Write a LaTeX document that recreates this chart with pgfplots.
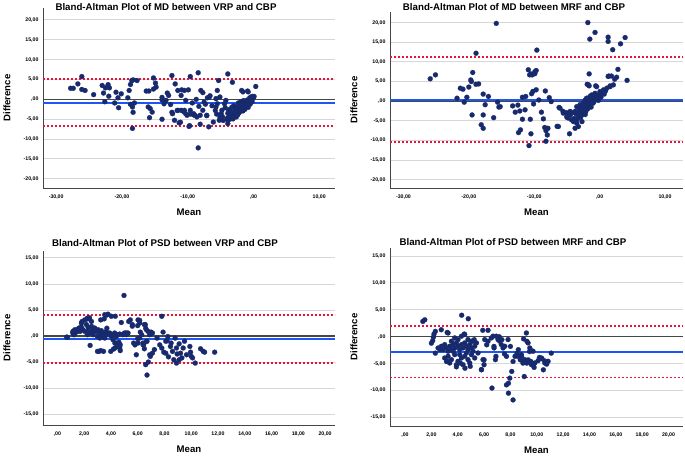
\documentclass[border=0pt]{standalone}
\usepackage{pgfplots}
\pgfplotsset{compat=1.18}
\usepackage{fontspec}
\setmainfont{Liberation Sans}

\definecolor{dotnavy}{RGB}{24,42,110}
\definecolor{meanblue}{RGB}{30,85,245}
\definecolor{limred}{RGB}{232,18,58}
\definecolor{gridgray}{RGB}{215,215,215}
\definecolor{axisgray}{RGB}{70,70,70}

\pgfplotsset{
  ba/.style={
    scale only axis, anchor=south west,
    axis x line*=bottom, axis y line*=left,
    axis line style={draw=axisgray, line width=0.9pt, -},
    major tick length=0pt,
    ymajorgrids, grid style={gridgray, line width=1pt},
    tick label style={font=\fontsize{5.2}{6}\selectfont\bfseries},
    xticklabel style={yshift=-3pt},
    yticklabel style={xshift=-1pt},
    every axis x label/.style={at={(rel axis cs:0.5,0)}, anchor=center, yshift=-24pt,
      font=\fontsize{9.6}{11}\selectfont\bfseries},
    every axis y label/.style={at={(rel axis cs:0,0.5)}, anchor=center, xshift=-36pt, rotate=90,
      font=\fontsize{9.6}{11}\selectfont\bfseries},
    xlabel=Mean, ylabel=Difference,
  },
  zeroline/.style={axisgray, line width=1.2pt, forget plot},
  meanline/.style={meanblue, line width=2pt, forget plot},
  limline/.style={limred, line width=1.7pt, dash pattern=on 2pt off 2pt, forget plot},
  pts/.style={only marks, mark=*, mark size=2.5pt, mark options={fill=dotnavy, draw=dotnavy, line width=0.2pt}},
  mdx/.style={xtick={-30,-20,-10,0,10},
    xticklabels={{-30,00},{-20,00},{-10,00},{,00},{10,00}},
    ytick={-20,-15,-10,-5,0,5,10,15,20},
    yticklabels={{-20,00},{-15,00},{-10,00},{-5,00},{,00},{5,00},{10,00},{15,00},{20,00}}},
  psdx/.style={xtick={0,2,4,6,8,10,12,14,16,18,20},
    xticklabels={{,00},{2,00},{4,00},{6,00},{8,00},{10,00},{12,00},{14,00},{16,00},{18,00},{20,00}},
    ytick={-15,-10,-5,0,5,10,15},
    yticklabels={{-15,00},{-10,00},{-5,00},{,00},{5,00},{10,00},{15,00}}},
}

\begin{document}
\begin{tikzpicture}[x=1pt,y=1pt]
\useasboundingbox (0,0) rectangle (685,456);

% ---------- MD: VRP vs CBP ----------
\begin{axis}[ba, mdx, at={(43pt,268pt)}, width=292pt, height=180pt,
  xmin=-32, xmax=12.4, ymin=-22.3, ymax=23]
\addplot[zeroline] coordinates {(-32,0) (12.4,0)};
\addplot[meanline] coordinates {(-32,-0.8) (12.4,-0.8)};
\addplot[limline] coordinates {(-32,5.1) (12.4,5.1)};
\addplot[limline] coordinates {(-32,-6.75) (12.4,-6.75)};
\addplot[pts] table {
x y
-27.8 2.8
-27.4 2.8
-26.7 3.9
-26.1 5.75
-26.1 2.5
-25.6 2.25
-24.3 1.2
-23.0 3.5
-22.8 1.6
-22.5 2.9
-22.1 3.7
-21.9 2.9
-22.6 -0.6
-22.0 0.8
-21.1 -0.9
-20.9 1.8
-20.5 -2.1
-20.1 1.4
-20.6 0.4
-19.1 0.4
-18.9 2.25
-18.7 3.75
-18.5 4.75
-18.3 4.9
-18.7 -1.25
-18.4 -1.9
-18.1 -0.9
-18.3 -3.25
-18.4 -7.3
-17.7 4.75
-16.3 2.1
-15.9 2.1
-16.0 -1.9
-15.7 -2.3
-15.8 -4.6
-15.4 -3.2
-15.2 5.4
-14.9 4.1
-14.8 3.1
-15.2 2.6
-13.9 -0.1
-13.9 -5.0
-13.9 0.5
-13.4 -0.3
-13.6 -1.1
-13.3 -0.25
-13.1 1.6
-12.9 1.0
-12.4 6.0
-12.6 -1.3
-12.3 -3.6
-12.4 -3.25
-11.9 3.9
-12.0 -5.25
-11.5 2.25
-11.5 -2.75
-11.6 -2.8
-11.0 -2.75
-11.3 -5.9
-11.1 -5.75
-11.0 1.0
-10.9 2.4
-10.5 2.25
-10.3 -0.25
-10.5 -2.75
-10.6 -3.1
-10.3 -3.6
-10.1 -4.0
-9.9 2.4
-9.8 -6.8
-9.7 -6.6
-9.6 5.75
-9.6 -2.75
-9.6 -3.7
-9.3 -0.9
-9.1 -3.6
-9.1 -3.9
-8.9 -4.0
-8.6 -4.4
-8.7 0.0
-8.4 6.7
-8.4 -12.2
-8.3 -1.75
-8.1 -4.0
-8.1 -6.25
-8.0 2.25
-7.7 1.7
-7.7 -2.75
-7.5 -0.7
-7.3 -1.2
-7.1 -4.1
-7.0 0.4
-7.1 -4.0
-6.8 -6.9
-6.7 0.6
-6.6 0.9
-6.3 -1.6
-6.1 -5.7
-5.8 -2.8
-5.7 -1.9
-5.6 -3.7
-5.5 -1.1
-5.5 2.25
-5.3 4.75
-5.7 0.2
-5.2 -5.25
-5.1 0.6
-5.1 -4.5
-4.9 -3.6
-4.8 -2.75
-4.7 -4.4
-4.6 -5.3
-4.4 -1.1
-4.3 -2.1
-4.2 -0.25
-3.9 6.4
-3.9 -5.25
-3.8 -4.6
-3.9 -6.1
-3.2 4.3
-4.0 -4.8
-3.9 -3.5
-3.8 -2.6
-3.7 -4.2
-3.6 -5.0
-3.5 -3.0
-3.4 -4.5
-3.3 -2.0
-3.2 -3.8
-3.1 -4.9
-3.0 -3.3
-3.0 -1.6
-2.9 -4.2
-2.8 -2.7
-2.7 -3.6
-2.6 -4.4
-2.6 -1.9
-2.5 -3.1
-2.4 -2.3
-2.4 -3.9
-2.3 -0.9
-2.2 -3.4
-2.1 -2.6
-2.0 -1.8
-2.0 -3.0
-1.9 -0.6
-1.8 -2.4
-1.8 2.25
-1.7 -1.4
-1.6 -2.9
-1.6 1.9
-1.5 -2.0
-1.5 -0.3
-1.4 -1.2
-1.3 -2.5
-1.2 -0.8
-1.1 -1.7
-1.0 -0.2
-0.9 -1.1
-0.9 2.1
-0.8 -2.0
-0.8 1.9
-0.7 -0.5
-0.6 0.3
-0.5 -1.2
-0.4 -0.1
-0.4 0.6
-0.3 0.5
-0.2 -0.6
-0.15 0.75
-0.1 0.2
0.0 0.4
0.1 0.75
0.35 3.25
};
\end{axis}

% ---------- MD: MRF vs CBP ----------
\begin{axis}[ba, mdx, at={(390pt,268pt)}, width=293pt, height=176pt,
  xmin=-32.05, xmax=12.75, ymin=-22.1, ymax=22.7]
\addplot[zeroline] coordinates {(-32.05,0) (12.75,0)};
\addplot[meanline] coordinates {(-32.05,0.4) (12.75,0.4)};
\addplot[limline] coordinates {(-32.05,11.2) (12.75,11.2)};
\addplot[limline] coordinates {(-32.05,-10.4) (12.75,-10.4)};
\addplot[pts] table {
x y
-25.9 5.7
-25.1 6.7
-21.8 0.75
-21.3 3.3
-20.9 3.05
-20.7 -0.25
-20.3 1.0
-20.0 3.6
-19.6 5.0
-19.7 5.4
-19.4 7.3
-19.5 -3.5
-18.9 4.3
-18.5 4.4
-18.9 12.2
-18.1 -6.0
-17.8 -6.9
-17.8 -3.5
-17.8 1.8
-17.5 -0.9
-17.0 1.2
-16.2 -4.2
-15.8 19.8
-15.6 -0.25
-15.4 -1.5
-15.2 -1.4
-13.3 -1.2
-12.9 -2.8
-12.5 -1.0
-12.4 -8.0
-12.1 -7.3
-12.2 -2.5
-11.8 1.0
-11.3 1.2
-11.8 -4.6
-11.4 -2.2
-10.9 8.0
-10.8 -11.3
-10.7 6.7
-10.5 6.95
-10.3 6.7
-10.6 -4.6
-10.5 -8.3
-10.4 1.9
-10.2 2.5
-9.9 7.5
-9.7 7.8
-9.9 7.0
-10.1 -0.7
-9.7 2.9
-9.6 13.0
-9.3 0.3
-8.9 -2.8
-8.6 -4.5
-8.4 -6.7
-8.2 -7.5
-7.9 -6.9
-8.0 -8.6
-8.3 2.6
-8.2 -10.2
-7.7 0.9
-7.4 -0.1
-6.5 -6.4
-6.3 -6.45
-6.2 -1.6
-6.05 -1.8
-5.6 -2.6
-5.55 -3.05
-5.1 -2.9
-5.0 -3.9
-4.8 -4.3
-4.7 -3.1
-5.0 -4.1
-4.6 -8.3
-4.5 -3.5
-4.5 -2.6
-4.3 -4.75
-4.2 -3.0
-4.0 -5.2
-3.9 -4.4
-3.75 -2.6
-3.75 -6.9
-3.6 -3.2
-3.5 -5.6
-3.5 -1.4
-3.4 -4.6
-3.3 -2.8
-3.25 -3.9
-3.25 -6.45
-3.1 -2.2
-3.0 -3.5
-3.0 -0.9
-2.9 -4.1
-2.8 -1.8
-2.7 -2.6
-2.7 -5.2
-2.6 -3.4
-2.5 -0.5
-2.4 -2.0
-2.3 -1.2
-2.2 0.3
-2.2 -3.4
-2.1 -2.6
-2.0 0.75
-2.0 -1.4
-1.9 -0.3
-1.9 4.3
-1.8 -1.9
-1.8 20.0
-1.7 -0.1
-1.7 4.15
-1.6 0.6
-1.6 3.9
-1.6 6.95
-1.5 1.2
-1.5 -0.9
-1.5 15.8
-1.4 -0.6
-1.3 -1.5
-1.2 1.6
-1.1 0.2
-1.0 1.2
-1.0 -0.5
-0.9 -0.2
-0.8 0.9
-0.7 2.0
-0.7 17.5
-0.6 0.4
-0.6 3.9
-0.45 1.6
-0.45 3.7
-0.3 1.1
-0.2 0.2
0.0 1.6
0.05 2.45
0.2 1.0
0.4 2.1
0.6 2.9
0.7 1.8
0.9 2.6
1.1 3.3
1.3 16.3
1.3 15.2
1.3 6.3
1.4 6.4
1.6 3.7
1.8 6.4
1.6 3.9
2.0 13.1
2.1 4.15
2.3 5.6
2.6 6.1
2.8 8.1
3.2 14.6
3.9 16.2
4.2 5.3
};
\end{axis}

% ---------- PSD: VRP vs CBP ----------
\begin{axis}[ba, psdx, at={(43pt,31pt)}, width=292pt, height=174.3pt,
  xmin=-1.07, xmax=20.74, ymin=-17.1, ymax=16.4]
\addplot[zeroline] coordinates {(-1.07,0) (20.74,0)};
\addplot[meanline] coordinates {(-1.07,-0.6) (20.74,-0.6)};
\addplot[limline] coordinates {(-1.07,4.0) (20.74,4.0)};
\addplot[limline] coordinates {(-1.07,-5.2) (20.74,-5.2)};
\addplot[pts] table {
x y
0.7 -0.2
0.75 -0.25
1.15 0.6
1.17 0.9
1.25 0.25
1.25 0.38
1.3 1.2
1.42 0.77
1.45 1.2
1.55 1.0
1.6 1.5
1.67 1.55
1.7 0.9
1.8 1.7
1.8 2.5
1.85 2.8
1.92 1.2
2.05 0.9
2.05 3.1
2.17 2.2
2.24 0.26
2.25 3.45
2.25 3.3
2.3 1.67
2.3 0.9
2.4 3.5
2.4 3.3
2.42 0.58
2.45 -1.8
2.55 2.8
2.55 1.86
2.55 1.03
2.67 1.22
2.67 0.26
2.79 1.54
2.79 0.9
2.92 0.9
2.99 -0.06
3.0 -2.95
3.04 1.22
3.1 -2.95
3.17 0.58
3.17 -0.38
3.24 3.1
3.24 -2.8
3.29 1.03
3.29 -0.25
3.41 0.26
3.45 -2.95
3.5 3.3
3.54 0.58
3.54 -0.38
3.54 4.1
3.65 4.0
3.66 0.9
3.7 1.5
3.79 0.26
3.79 4.2
3.91 0.58
3.99 -2.95
4.03 -0.06
4.03 3.8
4.16 0.26
4.16 -0.7
4.2 -2.5
4.28 0.58
4.3 -2.3
4.3 -1.35
4.33 3.8
4.41 -0.06
4.41 -1.35
4.48 -2.0
4.53 0.26
4.6 -1.2
4.66 0.38
4.66 -2.3
4.7 -1.7
4.7 -2.8
4.78 2.6
4.9 0.26
4.95 0.4
4.98 7.8
5.03 0.58
5.15 0.26
5.15 0.6
5.28 0.58
5.33 2.8
5.45 3.1
5.6 1.9
5.6 2.2
5.7 -1.35
5.8 -1.7
5.9 -3.6
6.0 2.0
6.0 -0.5
6.03 3.1
6.03 -1.35
6.15 3.0
6.15 2.5
6.15 -0.38
6.2 0.75
6.3 0.25
6.4 -1.35
6.4 -1.67
6.45 -1.7
6.5 -2.45
6.5 2.2
6.57 2.2
6.6 1.5
6.65 1.22
6.65 -1.03
6.6 -5.5
6.7 -7.5
6.7 -1.0
6.77 0.9
6.8 -5.0
6.9 -3.6
6.9 0.26
6.95 -3.9
7.0 0.75
7.1 -3.3
7.1 0.58
7.25 -2.6
7.45 -0.4
7.65 -1.7
7.8 3.8
7.9 0.75
7.8 -2.3
7.95 -3.1
8.1 -1.0
8.2 -0.9
8.1 -3.3
8.25 -0.1
8.3 -4.0
8.45 -2.0
8.5 -1.35
8.6 -2.95
8.7 -4.55
8.8 -0.4
8.9 -2.3
8.95 -3.45
9.1 -4.55
8.9 -5.2
9.1 -1.5
9.2 -3.3
9.3 -4.2
9.4 -2.3
9.5 -1.0
9.65 -3.6
9.9 -2.0
9.95 -3.1
10.0 -3.9
10.1 -4.2
10.3 -5.2
10.7 -2.45
10.9 -2.95
11.0 -3.1
11.75 -3.1
};
\end{axis}

% ---------- PSD: MRF vs CBP ----------
\begin{axis}[ba, psdx, at={(390pt,30pt)}, width=293pt, height=178pt,
  xmin=-1.14, xmax=21.1, ymin=-16.6, ymax=16.5]
\addplot[zeroline] coordinates {(-1.14,0) (21.1,0)};
\addplot[meanline] coordinates {(-1.14,-2.75) (21.1,-2.75)};
\addplot[limline] coordinates {(-1.14,2.05) (21.1,2.05)};
\addplot[limline] coordinates {(-1.14,-7.6) (21.1,-7.6)};
\addplot[pts] table {
x y
1.35 2.85
1.5 3.15
2.0 -1.2
2.1 -0.75
2.15 -0.1
2.2 0.5
2.3 1.0
2.3 -3.05
2.51 -2.09
2.65 -2.4
2.75 1.3
2.76 -1.77
2.89 -2.4
3.01 -1.46
3.01 -3.95
3.14 -2.09
3.15 -4.6
3.2 0.8
3.2 -4.57
3.27 -2.7
3.27 -3.64
3.27 0.7
3.39 -1.77
3.39 -4.88
3.52 -2.4
3.52 -0.84
3.52 -4.26
3.65 -1.46
3.65 -2.7
3.77 -2.09
3.77 -0.22
3.77 -3.33
3.9 -1.15
3.9 -5.6
3.9 -5.2
4.02 -1.77
4.02 -0.53
4.02 -4.57
4.15 -2.4
4.15 -3.33
4.2 -4.9
4.28 -1.46
4.28 0.1
4.28 -3.95
4.3 4.0
4.4 -2.09
4.4 -5.2
4.5 0.5
4.53 -1.15
4.53 0.4
4.53 -3.64
4.55 -5.85
4.66 -1.77
4.66 -3.02
4.78 -2.4
4.78 -0.53
4.78 -4.26
4.8 3.35
4.91 -1.46
4.91 -4.88
4.95 -5.5
5.04 -2.09
5.04 -0.84
5.04 -3.33
5.16 -0.84
5.16 -2.7
5.25 -0.55
5.29 -1.77
5.29 -3.95
5.42 -1.15
5.54 -3.02
5.8 -6.15
5.8 -6.1
5.9 1.2
5.92 -4.26
6.0 -4.3
6.0 -5.2
6.05 -0.53
6.2 -1.5
6.3 1.2
6.3 -0.84
6.55 -0.22
6.6 -9.55
6.68 0.1
6.75 -1.8
6.76 -2.09
6.86 -4.26
6.9 -3.65
6.93 0.1
7.06 -0.53
7.15 0.0
7.19 -0.84
7.31 -1.46
7.35 -0.55
7.44 -2.09
7.55 -3.2
7.57 -1.77
7.7 -3.65
7.7 -8.95
7.82 -0.53
7.85 -8.65
7.85 -10.5
7.95 -7.7
8.0 -1.8
8.1 -6.45
8.2 -4.6
8.2 -11.75
8.35 -3.65
8.5 -3.05
8.58 -3.64
8.6 -2.4
8.75 -4.3
8.83 -3.33
8.85 -3.65
8.95 -4.9
9.0 -0.4
9.05 -7.4
9.09 -4.26
9.1 -4.6
9.21 0.7
9.25 -4.9
9.25 -0.85
9.34 -1.15
9.35 -4.3
9.45 -2.75
9.47 -2.09
9.55 -4.6
9.6 -2.6
9.6 -5.2
9.72 -2.7
9.75 -5.2
9.8 -5.7
9.85 -4.88
10.1 -4.45
10.2 -3.85
10.35 -3.95
10.4 -4.1
10.5 -6.15
10.6 -4.5
10.61 -4.88
10.75 -5.1
10.86 -4.57
11.1 -3.05
};
\end{axis}

% chart titles
\node[font=\fontsize{9.7}{11}\selectfont\bfseries] at (166,449) {Bland-Altman Plot of MD between VRP and CBP};
\node[font=\fontsize{9.7}{11}\selectfont\bfseries] at (514,449) {Bland-Altman Plot of MD between MRF and CBP};
\node[font=\fontsize{9.7}{11}\selectfont\bfseries] at (165,213) {Bland-Altman Plot of PSD between VRP and CBP};
\node[font=\fontsize{9.7}{11}\selectfont\bfseries] at (513,214) {Bland-Altman Plot of PSD between MRF and CBP};
\end{tikzpicture}
\end{document}
